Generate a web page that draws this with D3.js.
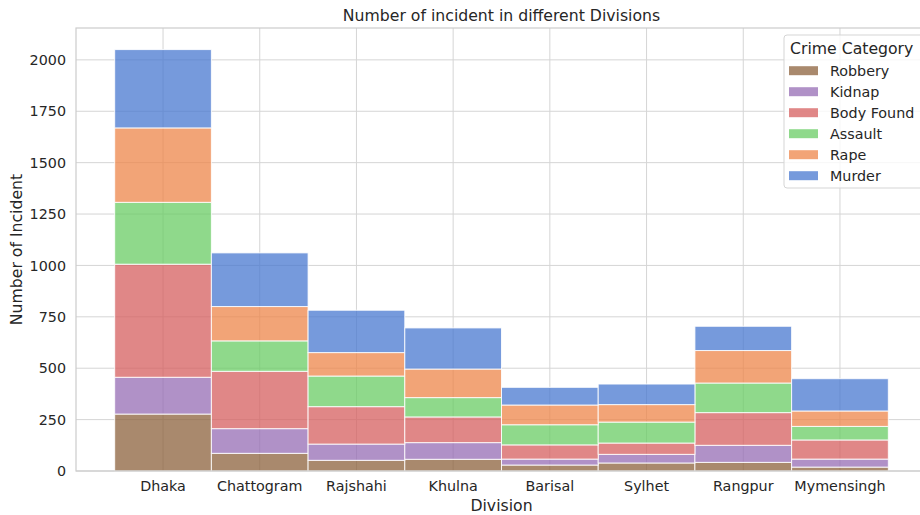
<!DOCTYPE html>
<html>
<head>
<meta charset="utf-8">
<script src="https://cdn.jsdelivr.net/npm/d3@7"></script>
<style>
  body { margin: 0; background: #fff; }
  svg { font-family: "DejaVu Sans", sans-serif; display: block; }
</style>
</head>
<body>
<div id="chart"></div>
<script>
// Divisions along the x axis
const divisions = ["Dhaka", "Chattogram", "Rajshahi", "Khulna", "Barisal", "Sylhet", "Rangpur", "Mymensingh"];

// Crime categories, bottom of the stack first
const categories = ["Robbery", "Kidnap", "Body Found", "Assault", "Rape", "Murder"];

// Incident counts per division (same order as divisions)
const robbery   = [277,  86,  52,  57, 29, 39,  42, 19];
const kidnap    = [179, 120,  79,  81, 29, 42,  83, 39];
const bodyFound = [550, 279, 182, 125, 69, 55, 159, 93];
const assault   = [301, 148, 149,  94, 98, 102, 144, 66];
const rape      = [362, 167, 114, 139, 96, 85, 158, 75];
const murder    = [381, 261, 206, 200, 86, 100, 118, 157];

const yTicks = [0, 250, 500, 750, 1000, 1250, 1500, 1750, 2000];

const colors = {
  "Murder": "#4878d0",
  "Rape": "#ee854a",
  "Assault": "#6acc64",
  "Body Found": "#d65f5f",
  "Kidnap": "#956cb4",
  "Robbery": "#8c613c"
};

const width = 920, height = 515;
const plot = { left: 76, right: 927, top: 28, bottom: 471 };
const tickSize = 14.3, labelSize = 15.7;

const rows = divisions.map((d, i) => ({
  division: d,
  "Robbery": robbery[i],
  "Kidnap": kidnap[i],
  "Body Found": bodyFound[i],
  "Assault": assault[i],
  "Rape": rape[i],
  "Murder": murder[i]
}));

const stacked = d3.stack().keys(categories)(rows);

const svg = d3.select("#chart")
  .append("svg")
  .attr("width", width)
  .attr("height", height);

const x = d3.scaleBand()
  .domain(divisions)
  .range([plot.left, plot.right])
  .paddingInner(0)
  .paddingOuter(0.4);

const y = d3.scaleLinear()
  .domain([0, 2155])
  .range([plot.bottom, plot.top]);

// grid
svg.append("g")
  .selectAll("line.hgrid")
  .data(yTicks)
  .join("line")
  .attr("x1", plot.left)
  .attr("x2", plot.right)
  .attr("y1", d => y(d))
  .attr("y2", d => y(d))
  .attr("stroke", "#d5d5d5")
  .attr("stroke-width", 1);

svg.append("g")
  .selectAll("line.vgrid")
  .data(divisions)
  .join("line")
  .attr("x1", d => x(d) + x.bandwidth() / 2)
  .attr("x2", d => x(d) + x.bandwidth() / 2)
  .attr("y1", plot.top)
  .attr("y2", plot.bottom)
  .attr("stroke", "#d5d5d5")
  .attr("stroke-width", 1);

// stacked bars
svg.append("g")
  .selectAll("g")
  .data(stacked)
  .join("g")
  .attr("fill", d => colors[d.key])
  .selectAll("rect")
  .data(d => d)
  .join("rect")
  .attr("x", d => x(d.data.division))
  .attr("width", x.bandwidth())
  .attr("y", d => y(d[1]))
  .attr("height", d => y(d[0]) - y(d[1]))
  .attr("fill-opacity", 0.75)
  .attr("stroke", "#ffffff")
  .attr("stroke-opacity", 0.85)
  .attr("stroke-width", 1);

// spines
svg.append("rect")
  .attr("x", plot.left)
  .attr("y", plot.top)
  .attr("width", plot.right - plot.left)
  .attr("height", plot.bottom - plot.top)
  .attr("fill", "none")
  .attr("stroke", "#cccccc")
  .attr("stroke-width", 1.2);

// axes
const xAxis = svg.append("g")
  .attr("transform", `translate(0,${plot.bottom})`)
  .call(d3.axisBottom(x).tickSize(0).tickPadding(10));
xAxis.select(".domain").remove();
xAxis.selectAll("text")
  .attr("font-size", tickSize)
  .attr("font-family", "DejaVu Sans, sans-serif")
  .attr("fill", "#262626");

const yAxis = svg.append("g")
  .attr("transform", `translate(${plot.left},0)`)
  .call(d3.axisLeft(y).tickValues(yTicks).tickFormat(d3.format("d")).tickSize(0).tickPadding(10));
yAxis.select(".domain").remove();
yAxis.selectAll("text")
  .attr("font-size", tickSize)
  .attr("font-family", "DejaVu Sans, sans-serif")
  .attr("fill", "#262626");

// title and labels
svg.append("text")
  .attr("x", (plot.left + plot.right) / 2)
  .attr("y", 21)
  .attr("text-anchor", "middle")
  .attr("font-size", labelSize)
  .attr("fill", "#262626")
  .text("Number of incident in different Divisions");

svg.append("text")
  .attr("x", (plot.left + plot.right) / 2)
  .attr("y", 511)
  .attr("text-anchor", "middle")
  .attr("font-size", labelSize)
  .attr("fill", "#262626")
  .text("Division");

svg.append("text")
  .attr("transform", `translate(22,${(plot.top + plot.bottom) / 2}) rotate(-90)`)
  .attr("text-anchor", "middle")
  .attr("font-size", labelSize)
  .attr("fill", "#262626")
  .text("Number of Incident");

// legend
const legend = svg.append("g").attr("transform", "translate(784,35)");
legend.append("rect")
  .attr("width", 145)
  .attr("height", 153)
  .attr("rx", 3)
  .attr("fill", "#ffffff")
  .attr("fill-opacity", 0.8)
  .attr("stroke", "#d5d5d5");
legend.append("text")
  .attr("x", 6)
  .attr("y", 19)
  .attr("font-size", labelSize)
  .attr("fill", "#262626")
  .text("Crime Category");

const items = legend.selectAll("g.item")
  .data(categories)
  .join("g")
  .attr("transform", (d, i) => `translate(0,${35.7 + i * 21})`);
items.append("rect")
  .attr("x", 5)
  .attr("y", -4.5)
  .attr("width", 29)
  .attr("height", 9)
  .attr("fill", d => colors[d])
  .attr("fill-opacity", 0.75);
items.append("text")
  .attr("x", 46)
  .attr("y", 5)
  .attr("font-size", tickSize)
  .attr("fill", "#262626")
  .text(d => d);
</script>
</body>
</html>
